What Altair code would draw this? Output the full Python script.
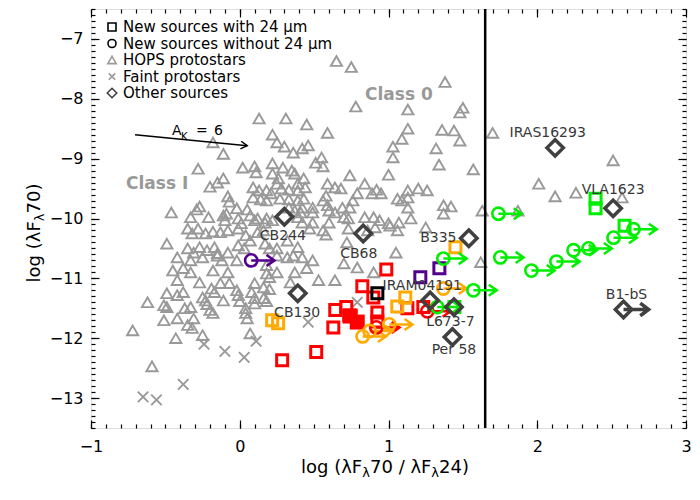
import altair as alt
import pandas as pd

FONT = "DejaVu Sans"

# ---------------- data ----------------
# HOPS protostars: (log 70/24 ratio, log lambda F_lambda 70)
hops = [
    (0.65, -7.37), (0.75, -7.47), (1.38, -7.72), (0.78, -8.13), (1.13, -8.18), (1.50, -8.15), (1.48, -8.23),
    (0.31, -8.33), (0.13, -8.33), (0.45, -8.43), (0.59, -8.57), (1.13, -8.50), (1.36, -8.52), (1.44, -8.53),
    (1.09, -8.67), (1.48, -8.70), (1.70, -8.57), (0.22, -8.60), (0.25, -8.73), (0.30, -8.80), (-0.18, -8.73),
    (-0.11, -8.92), (0.36, -8.90), (0.42, -8.83), (0.46, -8.78), (1.03, -8.80), (1.32, -8.83), (0.55, -8.98),
    (0.51, -9.07), (0.56, -9.13), (1.03, -8.98), (1.34, -9.10), (1.57, -9.18), (0.37, -9.25), (0.74, -9.28),
    (1.00, -9.27), (-0.28, -9.17), (0.02, -9.15), (0.10, -9.13), (0.11, -9.23), (0.22, -9.08), (0.29, -9.15),
    (0.35, -9.20), (0.22, -9.25), (0.26, -9.33), (0.25, -9.42), (0.43, -9.33), (0.39, -9.42), (0.59, -9.42),
    (0.64, -9.48), (0.68, -9.50), (0.84, -9.42), (0.79, -9.58), (0.92, -9.52), (0.95, -9.58), (0.89, -9.58),
    (1.13, -9.53), (1.20, -9.50), (1.26, -9.53), (-0.11, -9.33), (-0.15, -9.40), (-0.20, -9.47), (0.09, -9.48),
    (0.13, -9.53), (0.18, -9.53), (0.21, -9.58), (0.28, -9.50), (0.33, -9.52), (0.39, -9.53), (0.44, -9.48),
    (0.09, -9.65), (0.14, -9.68), (0.18, -9.70), (-0.08, -9.63), (-0.07, -9.72), (0.27, -9.67), (0.33, -9.68),
    (0.39, -9.70), (0.43, -9.67), (0.58, -9.62), (0.56, -9.70), (0.76, -9.70), (1.06, -9.67), (1.09, -9.70),
    (1.13, -9.65), (-0.27, -9.80), (-0.29, -9.85), (-0.46, -9.90), (-0.33, -9.98), (-0.21, -9.98), (-0.09, -9.92),
    (-0.02, -9.83), (0.05, -9.85), (-0.01, -10.00), (0.01, -10.08), (0.12, -10.00), (0.17, -10.07), (0.33, -9.82),
    (0.37, -9.87), (0.42, -9.82), (0.41, -9.90), (0.49, -9.82), (0.49, -9.90), (0.59, -9.78), (0.60, -9.87),
    (0.64, -9.90), (0.69, -9.82), (0.74, -9.82), (1.13, -9.82), (1.37, -9.78), (1.42, -9.80), (1.37, -9.92),
    (1.63, -9.87), (0.70, -9.98), (0.73, -10.00), (0.84, -9.98), (0.90, -9.98), (0.94, -10.03), (1.00, -10.08),
    (1.07, -10.07), (1.15, -10.00), (0.39, -9.98), (0.42, -10.07), (0.22, -10.03), (0.18, -10.00), (-0.11, -9.95),
    (-0.10, -10.03), (0.07, -9.95), (0.10, -10.03), (-0.35, -10.17), (-0.32, -10.25), (-0.28, -10.17), (-0.23, -10.25),
    (-0.18, -10.22), (-0.13, -10.23), (-0.08, -10.20), (-0.01, -10.17), (0.04, -10.28), (0.07, -10.37), (0.12, -10.23),
    (0.16, -10.20), (0.47, -10.17), (0.56, -10.20), (0.58, -10.27), (0.73, -10.17), (0.86, -10.20), (0.91, -10.15),
    (1.06, -10.20), (1.25, -10.15), (1.01, -10.12), (-0.49, -10.42), (-0.35, -10.50), (-0.31, -10.57), (-0.27, -10.48),
    (-0.22, -10.53), (-0.17, -10.48), (-0.15, -10.58), (-0.08, -10.57), (-0.01, -10.45), (0.03, -10.50), (0.17, -10.42),
    (0.20, -10.50), (0.25, -10.50), (0.32, -10.37), (0.39, -10.48), (0.49, -10.07), (0.60, -10.07), (0.72, -10.40),
    (1.05, -10.57), (1.62, -10.73), (0.25, -10.62), (0.32, -10.65), (0.36, -10.62), (0.42, -10.65), (0.49, -10.70),
    (0.18, -10.78), (0.45, -10.83), (0.70, -10.75), (0.79, -10.82), (0.90, -10.90), (-0.42, -10.65), (-0.33, -10.70),
    (-0.25, -10.65), (-0.15, -10.62), (-0.12, -10.70), (-0.02, -10.70), (-0.45, -10.87), (-0.38, -10.83), (-0.33, -10.90),
    (-0.18, -10.87), (-0.08, -10.90), (0.18, -10.92), (0.25, -10.90), (0.37, -10.90), (0.20, -10.98), (0.10, -11.08),
    (0.34, -11.07), (0.53, -11.03), (0.64, -11.03), (-0.42, -11.03), (-0.27, -11.07), (-0.07, -11.08), (-0.13, -11.08),
    (0.16, -11.15), (0.20, -11.18), (-0.19, -11.17), (-0.17, -11.23), (-0.02, -11.20), (-0.01, -11.28), (0.08, -11.23),
    (-0.42, -11.28), (-0.38, -11.23), (-0.25, -11.32), (-0.23, -11.37), (-0.22, -11.43), (-0.11, -11.37), (0.00, -11.38),
    (0.04, -11.50), (0.10, -11.33), (0.16, -11.33), (0.18, -11.38), (-0.37, -11.50), (-0.33, -11.48), (-0.20, -11.53),
    (-0.18, -11.58), (-0.42, -11.67), (-0.31, -11.67), (0.05, -11.67), (-0.62, -11.40), (-0.51, -11.45), (-0.49, -11.48),
    (-0.72, -11.87), (-0.51, -11.70), (-0.43, -12.00), (-0.59, -12.47), (-0.49, -11.25), (-0.35, -11.78), (-0.32, -11.83),
    (-0.25, -11.95), (0.07, -11.92), (0.10, -11.42), (0.04, -11.58), (2.51, -9.03), (2.01, -9.42),
    (2.12, -9.63), (2.26, -9.57), (2.57, -9.65), (1.87, -9.87),
]

# Faint protostars
faint = [(-0.65, -12.98), (-0.56, -13.03), (-0.38, -12.77), (-0.24, -12.10), (-0.10, -12.22),
         (0.03, -12.32), (0.11, -12.05), (0.46, -11.73), (0.79, -11.40)]

# New sources with 24 micron detection (squares): x, y, group colour
new_sq = [
    (0.985, -10.85, "red"), (0.824, -11.13, "red"), (0.898, -11.32, "red"), (0.642, -11.53, "red"),
    (0.716, -11.48, "red"), (0.736, -11.62, "red"), (0.629, -11.82, "red"), (0.925, -11.57, "red"),
    (0.925, -11.72, "red"), (1.127, -11.50, "red"), (1.234, -11.48, "red"), (0.514, -12.23, "red"),
    (0.285, -12.37, "red"),
    (0.218, -11.70, "orange"), (0.258, -11.75, "orange"), (1.059, -11.47, "orange"),
    (1.113, -11.32, "orange"), (1.450, -10.48, "orange"),
    (1.214, -10.98, "purple"), (1.342, -10.83, "purple"),
    (0.925, -11.25, "black"),
    (2.392, -9.67, "green"), (2.392, -9.83, "green"), (2.587, -10.12, "green"), (1.443, -11.48, "green"),
]
new_sq_filled = [(0.743, -11.63, "red"), (0.790, -11.73, "red")]

# New sources without 24 micron detection (circles, lower limits on the ratio)
new_circ = [
    (0.918, -11.82, "red"), (1.261, -11.55, "red"),
    (0.826, -11.97, "orange"), (0.873, -11.88, "orange"), (1.005, -11.77, "orange"), (1.369, -11.17, "orange"),
    (0.077, -10.70, "purple"),
    (1.369, -10.67, "green"), (1.571, -11.20, "green"), (1.328, -11.48, "green"), (1.739, -9.92, "green"),
    (1.752, -10.65, "green"), (1.961, -10.87, "green"), (2.129, -10.72, "green"), (2.244, -10.53, "green"),
    (2.345, -10.50, "green"), (2.513, -10.32, "green"), (2.647, -10.18, "green"),
]

# Other sources: name, x, y, label x, label y
others = [
    ("CB244", 0.30, -9.97, 0.29, -10.30),
    ("CB68", 0.83, -10.25, 0.80, -10.60),
    ("B335", 1.54, -10.33, 1.335, -10.33),
    ("IRAM04191", 1.28, -11.37, 1.227, -11.12),
    ("CB130", 0.39, -11.25, 0.386, -11.58),
    ("L673-7", 1.44, -11.48, 1.416, -11.73),
    ("Per 58", 1.43, -11.98, 1.44, -12.20),
    ("IRAS16293", 2.12, -8.82, 2.07, -8.57),
    ("VLA1623", 2.51, -9.83, 2.51, -9.52),
    ("B1-bS", 2.58, -11.52, 2.60, -11.28),
]
limit_others = ["B1-bS"]

class_labels = [("Class 0", 1.07, -7.93), ("Class I", -0.555, -9.42)]
ak_vector = [(-0.704, -8.60, 0.05, -8.783)]
boundary_x = [1.65]

legend_labels = ["New sources with 24 \u03bcm", "New sources without 24 \u03bcm",
                 "HOPS protostars", "Faint protostars", "Other sources"]

group_names = ["red", "orange", "purple", "black", "green"]
group_colors = ["#ff0000", "#ffaa00", "#55008c", "#000000", "#00ee00"]

x_major = [-1, 0, 1, 2, 3]
y_major = [-13, -12, -11, -10, -9, -8, -7]
x_minor = [round(-1 + 0.1 * i, 1) for i in range(41)]
y_minor = [round(-13.5 + 0.1 * i, 1) for i in range(71)]

# ---------------- frames ----------------
tri_df = pd.DataFrame(hops, columns=["x", "y"])
faint_df = pd.DataFrame(faint, columns=["x", "y"])
sq_df = pd.DataFrame(new_sq, columns=["x", "y", "c"])
sqf_df = pd.DataFrame(new_sq_filled, columns=["x", "y", "c"])
circ_df = pd.DataFrame(new_circ, columns=["x", "y", "c"])
oth_df = pd.DataFrame(others, columns=["name", "x", "y", "lx", "ly"])
lim_df = oth_df[oth_df["name"].isin(limit_others)]
cls_df = pd.DataFrame(class_labels, columns=["t", "x", "y"])
ak_df = pd.DataFrame(ak_vector, columns=["x", "y", "x2", "y2"])
bnd_df = pd.DataFrame({"x": boundary_x})

W, H = 595, 419
XS = alt.Scale(domain=[-1, 3], nice=False, zero=False)
YS = alt.Scale(domain=[-13.5, -6.5], nice=False, zero=False)
CS = alt.Scale(domain=group_names, range=group_colors)


def xy(ax=None, ay=None, xf="x", yf="y"):
    return dict(x=alt.X(f"{xf}:Q", scale=XS, axis=ax), y=alt.Y(f"{yf}:Q", scale=YS, axis=ay))


def tick_axis(orient, offset, values, size):
    return alt.Axis(orient=orient, offset=offset, values=values, labels=False, domain=False,
                    grid=False, ticks=True, tickSize=size, tickWidth=1.2, tickColor="black",
                    title=None)


label_x_axis = alt.Axis(orient="bottom", values=x_major, ticks=False, tickSize=0, domain=False,
                        grid=False, labelFont=FONT, labelFontSize=16, labelColor="black",
                        labelPadding=10, labelFlush=False, labelOverlap=False, title=None)
label_y_axis = alt.Axis(orient="left", values=y_major, ticks=False, tickSize=0, domain=False,
                        grid=False, labelFont=FONT, labelFontSize=16, labelColor="black",
                        labelPadding=8, labelFlush=False, labelOverlap=False, title=None)

layers = []

# axis tick layers (inward ticks on all four sides)
for orient_x, orient_y, vals_x, vals_y, size in [
    ("top", "right", x_major, y_major, 8), ("top", "right", x_minor, y_minor, 4),
    ("bottom", "left", x_major, y_major, 8), ("bottom", "left", x_minor, y_minor, 4),
]:
    layers.append(
        alt.Chart(tri_df).mark_point(opacity=0).encode(
            **xy(tick_axis(orient_x, -H, vals_x, size), tick_axis(orient_y, -W, vals_y, size)))
    )

# HOPS triangles (carry the labelled axes)
layers.append(
    alt.Chart(tri_df).mark_point(shape="triangle-up", color="#999999", strokeWidth=1.9,
                                 size=125, opacity=1).encode(**xy(label_x_axis, label_y_axis))
)
# faint protostars
layers.append(
    alt.Chart(faint_df).mark_point(shape="M-1,-1L1,1M-1,1L1,-1", color="#999999", strokeWidth=1.9,
                                   size=110, opacity=1).encode(**xy())
)
# boundary line
layers.append(
    alt.Chart(bnd_df).mark_rule(color="black", strokeWidth=2.5).encode(
        x=alt.X("x:Q", scale=XS, axis=None))
)
# new sources with 24um
layers.append(
    alt.Chart(sq_df).mark_point(shape="square", strokeWidth=3, size=121, opacity=1).encode(
        color=alt.Color("c:N", scale=CS, legend=None), **xy())
)
layers.append(
    alt.Chart(sqf_df).mark_point(shape="square", filled=True, size=225, opacity=1).encode(
        color=alt.Color("c:N", scale=CS, legend=None), **xy())
)
# new sources without 24um: circles + lower-limit arrows
layers.append(
    alt.Chart(circ_df).mark_point(shape="M0,0L3.8,0M2.5,-0.9L3.8,0L2.5,0.9", strokeWidth=2.5,
                                  size=150, opacity=1).encode(
        color=alt.Color("c:N", scale=CS, legend=None), **xy())
)
layers.append(
    alt.Chart(circ_df).mark_point(shape="circle", strokeWidth=2.6, size=150, opacity=1).encode(
        color=alt.Color("c:N", scale=CS, legend=None), **xy())
)
# other sources
layers.append(
    alt.Chart(lim_df).mark_point(shape="M0,0L3,0M2,-0.75L3,0L2,0.75", strokeWidth=3.5,
                                 color="#404040", size=280, opacity=1).encode(**xy())
)
layers.append(
    alt.Chart(oth_df).mark_point(shape="diamond", strokeWidth=3.5, color="#404040", size=270,
                                 opacity=1).encode(**xy())
)
layers.append(
    alt.Chart(oth_df).mark_text(font=FONT, fontSize=14, color="#383838", align="center",
                                baseline="middle").encode(text="name:N", **xy(xf="lx", yf="ly"))
)
# class labels
layers.append(
    alt.Chart(cls_df).mark_text(font=FONT, fontSize=17, fontWeight="bold", color="#999999",
                                align="center", baseline="middle").encode(text="t:N", **xy())
)
# extinction vector
layers.append(
    alt.Chart(ak_df).mark_rule(color="black", strokeWidth=1.5).encode(
        x=alt.X("x:Q", scale=XS, axis=None), y=alt.Y("y:Q", scale=YS, axis=None),
        x2="x2:Q", y2="y2:Q")
)
layers.append(
    alt.Chart(ak_df).mark_point(shape="M-1.6,-0.95L0,0L-1.6,0.95", color="black", strokeWidth=1.5,
                                size=64, angle=5.6, opacity=1).encode(**xy(xf="x2", yf="y2"))
)


def txt(s, x, y, size, angle=0, color="black", weight="normal"):
    kw = dict(font=FONT, fontSize=size, color=color, align="left", baseline="alphabetic",
              fontWeight=weight)
    if angle:
        kw["angle"] = angle
    return alt.Chart(pd.DataFrame({"t": [s]})).mark_text(**kw).encode(
        x=alt.value(x), y=alt.value(y), text="t:N")


# A_K = 6 label
layers += [txt("A", 81, 126, 14), txt("K", 90, 130.5, 10), txt("=", 105, 126, 14), txt("6", 123, 126, 14)]

# legend
leg_shapes = ["square", "circle", "triangle-up", "M-1,-1L1,1M-1,1L1,-1", "diamond"]
leg_colors = ["black", "black", "#999999", "#999999", "#404040"]
leg_sizes = [64, 64, 70, 40, 90]
leg_rows = [18, 34.5, 51, 67.5, 84]
for lab, shp, col, sz, ry in zip(legend_labels, leg_shapes, leg_colors, leg_sizes, leg_rows):
    d = pd.DataFrame({"t": [lab]})
    layers.append(alt.Chart(d).mark_point(shape=shp, color=col, size=sz, strokeWidth=1.6,
                                          opacity=1).encode(x=alt.value(21), y=alt.value(ry)))
    layers.append(alt.Chart(d).mark_text(font=FONT, fontSize=15, color="black", align="left",
                                         baseline="middle").encode(
        x=alt.value(32), y=alt.value(ry), text="t:N"))

# axis titles with subscript lambda
TY = 464
layers += [
    txt("log (\u03bbF", 210, TY, 18), txt("\u03bb", 271.2, TY + 4, 13),
    txt("70 / \u03bbF", 279, TY, 18), txt("\u03bb", 340.3, TY + 4, 13),
    txt("24)", 348, TY, 18),
]
TX = -51
layers += [
    txt("log (\u03bbF", TX, 273.4, 18, angle=270), txt("\u03bb", TX + 4, 212.2, 13, angle=270),
    txt("70)", TX, 204.5, 18, angle=270),
]

chart = alt.layer(*layers).resolve_axis(x="independent", y="independent").properties(
    width=W, height=H,
    autosize=alt.AutoSizeParams(type="none"),
    padding={"left": 83, "top": 1, "right": 6, "bottom": 72},
).configure_view(stroke="black", strokeWidth=1.5).configure(background="white")

chart.save("out.html", embed_options={"renderer": "svg", "actions": False})
